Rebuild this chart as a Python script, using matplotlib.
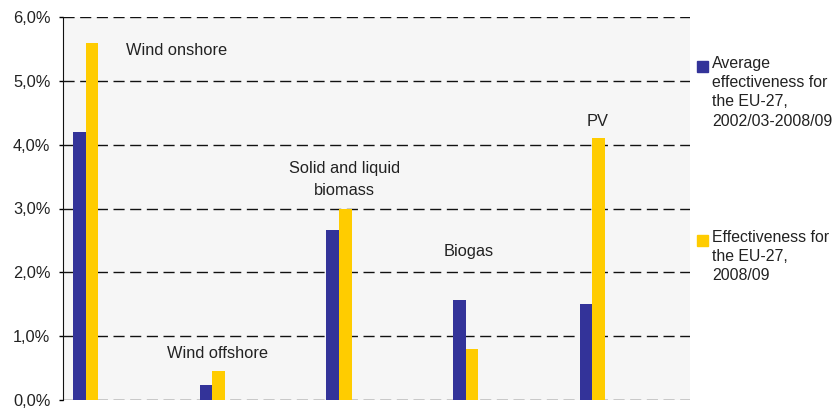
import matplotlib
matplotlib.use("Agg")
import matplotlib.pyplot as plt
from matplotlib.patches import Rectangle
from matplotlib.ticker import FuncFormatter
import numpy as np

plt.rcParams['font.family'] = ['Liberation Sans', 'DejaVu Sans']

# data
categories = ["Wind onshore", "Wind offshore", "Solid and liquid\nbiomass", "Biogas", "PV"]
avg_0203_0809 = [4.2, 0.24, 2.67, 1.57, 1.5]   # % average effectiveness EU-27
eff_0809 = [5.6, 0.45, 3.0, 0.8, 4.1]          # % effectiveness EU-27 2008/09
label_pos = [(0.72, 5.47), (1.04, 0.73), (2.04, 3.45), (3.02, 2.33), (4.04, 4.37)]
legend_labels = ["Average\neffectiveness for\nthe EU-27,\n2002/03-2008/09",
                 "Effectiveness for\nthe EU-27,\n2008/09"]

blue = "#333399"
yellow = "#FFCC00"
txt = "#222222"

fig = plt.figure(figsize=(8.35, 4.08), dpi=100)
ax = fig.add_axes([63 / 835, 8 / 408, 627 / 835, 383 / 408])
ax.set_facecolor("#F6F6F6")

x = np.arange(len(categories))
w = 0.1
ax.bar(x - w / 2, avg_0203_0809, w, color=blue, zorder=3)
ax.bar(x + w / 2, eff_0809, w, color=yellow, zorder=3)

for name, (lx, ly) in zip(categories, label_pos):
    ax.text(lx, ly, name, ha="center", va="center", fontsize=11.8,
            color=txt, linespacing=1.55, zorder=4)

ax.set_xlim(-0.18, 4.77)
ax.set_ylim(0, 6)
ax.set_yticks(np.arange(0, 6.1, 1))
ax.yaxis.set_major_formatter(FuncFormatter(lambda v, p: f"{v:.1f}%".replace(".", ",")))
ax.tick_params(axis="y", labelsize=11.8, labelcolor=txt, length=3, width=1, pad=6)
ax.set_xticks([])
ax.yaxis.grid(True, linestyle=(0, (8, 4)), color="#111111", linewidth=1, zorder=1)
ax.set_axisbelow(True)
for s in ["top", "right", "bottom"]:
    ax.spines[s].set_visible(False)
ax.spines["left"].set_color("#111111")

# legend, handle at first text line
legend_items = [(blue, 66), (yellow, 240)]
for (col, ytop), lab in zip(legend_items, legend_labels):
    fig.patches.append(Rectangle((697 / 835, 1 - (ytop + 6) / 408), 11 / 835, 11 / 408,
                                 transform=fig.transFigure, color=col, figure=fig))
    fig.text(712 / 835, 1 - (ytop - 10) / 408, lab, ha="left", va="top",
             fontsize=11.4, color=txt, linespacing=1.35)

fig.savefig("out.png", dpi=100)
